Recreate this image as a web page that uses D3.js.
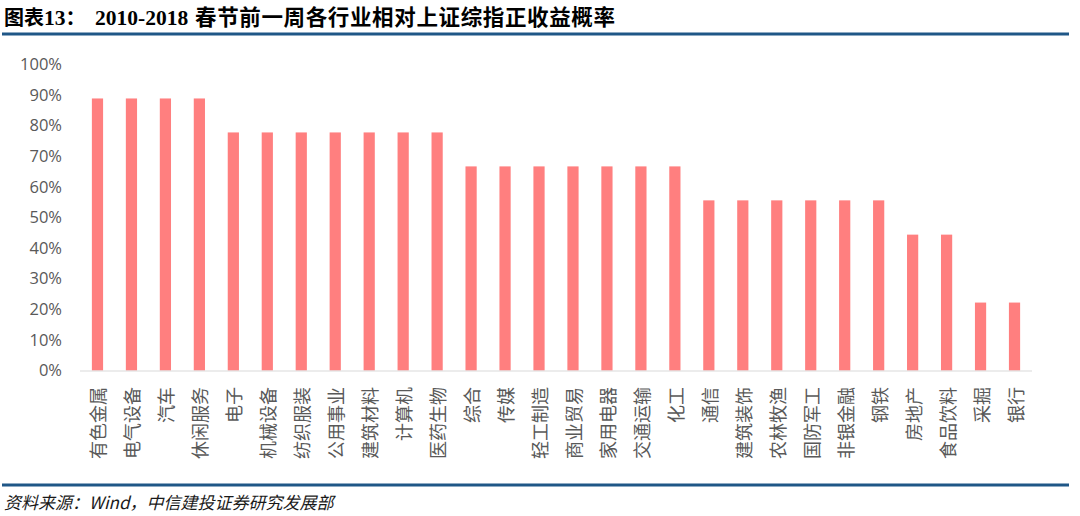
<!DOCTYPE html>
<html><head><meta charset="utf-8">
<script src="https://cdn.jsdelivr.net/npm/d3@7/dist/d3.min.js"></script>
<style>
html,body{margin:0;padding:0;background:#fff;}
svg{display:block;}
</style></head>
<body>
<svg id="chart" width="1080" height="516"></svg>
<script>
const categories = ["有色金属","电气设备","汽车","休闲服务","电子","机械设备","纺织服装","公用事业","建筑材料","计算机","医药生物","综合","传媒","轻工制造","商业贸易","家用电器","交通运输","化工","通信","建筑装饰","农林牧渔","国防军工","非银金融","钢铁","房地产","食品饮料","采掘","银行"];
const values = [0.889,0.889,0.889,0.889,0.778,0.778,0.778,0.778,0.778,0.778,0.778,0.667,0.667,0.667,0.667,0.667,0.667,0.667,0.556,0.556,0.556,0.556,0.556,0.556,0.444,0.444,0.222,0.222];
const yTicks = [0,0.1,0.2,0.3,0.4,0.5,0.6,0.7,0.8,0.9,1.0];
const titleLabel = "图表";
const titleNum = "13";
const titleColon = "：";
const titleYears = "2010-2018";
const titleRest = "春节前一周各行业相对上证综指正收益概率";
const sourceText = "资料来源：Wind，中信建投证券研究发展部";

const svg = d3.select("#chart");
const x = d3.scaleBand().domain(categories).range([80.5, 1031.5]).paddingInner(0.67).paddingOuter(0.335);
const y = d3.scaleLinear().domain([0,1]).range([370.5, 64.5]);

// title
const t = svg.append("text").attr("x",4).attr("y",25).attr("font-weight","bold").attr("fill","#000");
t.append("tspan").text(titleLabel).attr("font-family","'Noto Sans CJK SC'").attr("font-size",20);
t.append("tspan").text(titleNum).attr("font-family","'Liberation Serif'").attr("font-size",21.5);
t.append("tspan").text(titleColon).attr("font-family","'Noto Sans CJK SC'").attr("font-size",20);
t.append("tspan").text(titleYears).attr("x",95).attr("font-family","'Liberation Serif'").attr("font-size",21.5);
t.append("tspan").text(titleRest).attr("x",195).attr("textLength",420).attr("font-family","'Noto Sans CJK SC'").attr("font-size",21.5);

svg.append("rect").attr("x",2).attr("y",32.5).attr("width",1067).attr("height",3).attr("fill","#1f5787");
svg.append("rect").attr("x",2).attr("y",483.5).attr("width",1067).attr("height",3).attr("fill","#1f5787");

// y axis labels
const yAxis = d3.axisLeft(y).tickValues(yTicks).tickFormat(d3.format(".0%")).tickSize(0).tickPadding(0);
const ga = svg.append("g").attr("transform","translate(62,0)").call(yAxis);
ga.select(".domain").remove();
ga.selectAll("text").attr("font-family","'Open Sans', 'Noto Sans', sans-serif").attr("font-size",16.5).attr("fill","#595959");

// bars
svg.append("g").selectAll("rect").data(categories).join("rect")
  .attr("x", d=>x(d)).attr("width", x.bandwidth())
  .attr("y", (d,i)=>y(values[i])).attr("height",(d,i)=>y(0)-y(values[i]))
  .attr("fill","#ff7f7f");

// x axis line
svg.append("line").attr("x1",80).attr("x2",1032).attr("y1",371).attr("y2",371).attr("stroke","#d9d9d9").attr("stroke-width",1);

// category labels rotated
svg.append("g").selectAll("text").data(categories).join("text")
  .attr("transform", d=>`translate(${x(d)+x.bandwidth()/2},387) rotate(-90)`)
  .attr("text-anchor","end").attr("dominant-baseline","central")
  .attr("font-family","'Noto Sans CJK SC'").attr("font-size",18).attr("fill","#595959")
  .text(d=>d);

// source
svg.append("text").attr("x",4).attr("y",509).attr("font-family","'Noto Sans CJK SC'").attr("font-style","italic")
  .attr("font-size",17).attr("fill","#1a1a1a").text(sourceText);
</script>
</body></html>
